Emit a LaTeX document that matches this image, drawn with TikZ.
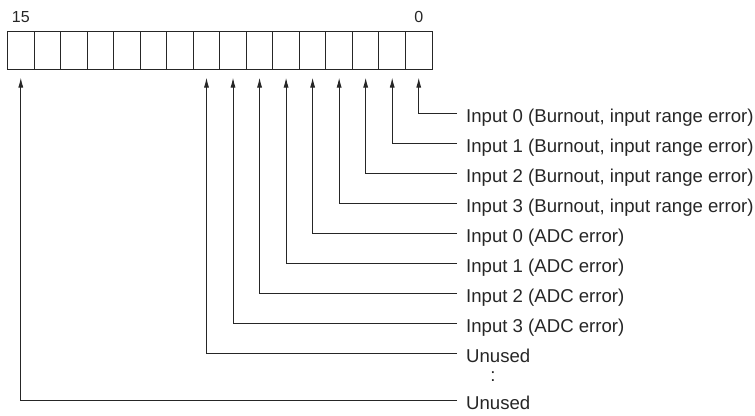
\documentclass[tikz,border=0pt]{standalone}
\usepackage{fontspec}
\setmainfont{Liberation Sans}
\usetikzlibrary{shapes,arrows.meta,positioning}
\tikzstyle{cell} = [rectangle, draw, minimum width=26.53pt, minimum height=38pt, inner sep=0pt, line width=1pt]
\tikzstyle{lbl} = [anchor=west, inner xsep=9pt, inner ysep=0pt, text height=18pt, text depth=0pt, font=\fontsize{18.6}{22}\selectfont]
\tikzstyle{bitnum} = [anchor=base, inner sep=0pt, font=\fontsize{16}{19}\selectfont]
\tikzstyle{line} = [draw, line width=1pt, -{Latex[length=10pt,width=5pt]}, shorten >=8pt]

\begin{document}
\begin{tikzpicture}[x=1pt, y=-1pt, node distance=30pt, color=black!85]
    \useasboundingbox (0,0) rectangle (755,415);
    % Register cells, bit 0 on the right
    \foreach \b in {0,...,15}
        \node [cell] (c\b) at ({432-(\b+0.5)*26.53}, 50) {};
    \node [bitnum] (b15) at ([yshift=8pt]c15.north) {15};
    \node [bitnum] (b0) at ([yshift=8pt]c0.north) {0};

    % Place labels
    \node [lbl] (bo0) at (457,113) {Input 0 (Burnout, input range error)};
    \node [below=of bo0.west, lbl] (bo1) {Input 1 (Burnout, input range error)};
    \node [below=of bo1.west, lbl] (bo2) {Input 2 (Burnout, input range error)};
    \node [below=of bo2.west, lbl] (bo3) {Input 3 (Burnout, input range error)};
    \node [below=of bo3.west, lbl] (adc0) {Input 0 (ADC error)};
    \node [below=of adc0.west, lbl] (adc1) {Input 1 (ADC error)};
    \node [below=of adc1.west, lbl] (adc2) {Input 2 (ADC error)};
    \node [below=of adc2.west, lbl] (adc3) {Input 3 (ADC error)};
    \node [below=of adc3.west, lbl] (un8) {Unused};
    \node [below=47pt of un8.west, lbl] (un15) {Unused};
    \node [font=\fontsize{18.6}{22}\selectfont, inner sep=0pt] (dots) at (493,377) {:};

    % Draw edges
    \path [line] (bo0.west) -| (c0.south);
    \path [line] (bo1.west) -| (c1.south);
    \path [line] (bo2.west) -| (c2.south);
    \path [line] (bo3.west) -| (c3.south);
    \path [line] (adc0.west) -| (c4.south);
    \path [line] (adc1.west) -| (c5.south);
    \path [line] (adc2.west) -| (c6.south);
    \path [line] (adc3.west) -| (c7.south);
    \path [line] (un8.west) -| (c8.south);
    \path [line] (un15.west) -| (c15.south);
\end{tikzpicture}
\end{document}
